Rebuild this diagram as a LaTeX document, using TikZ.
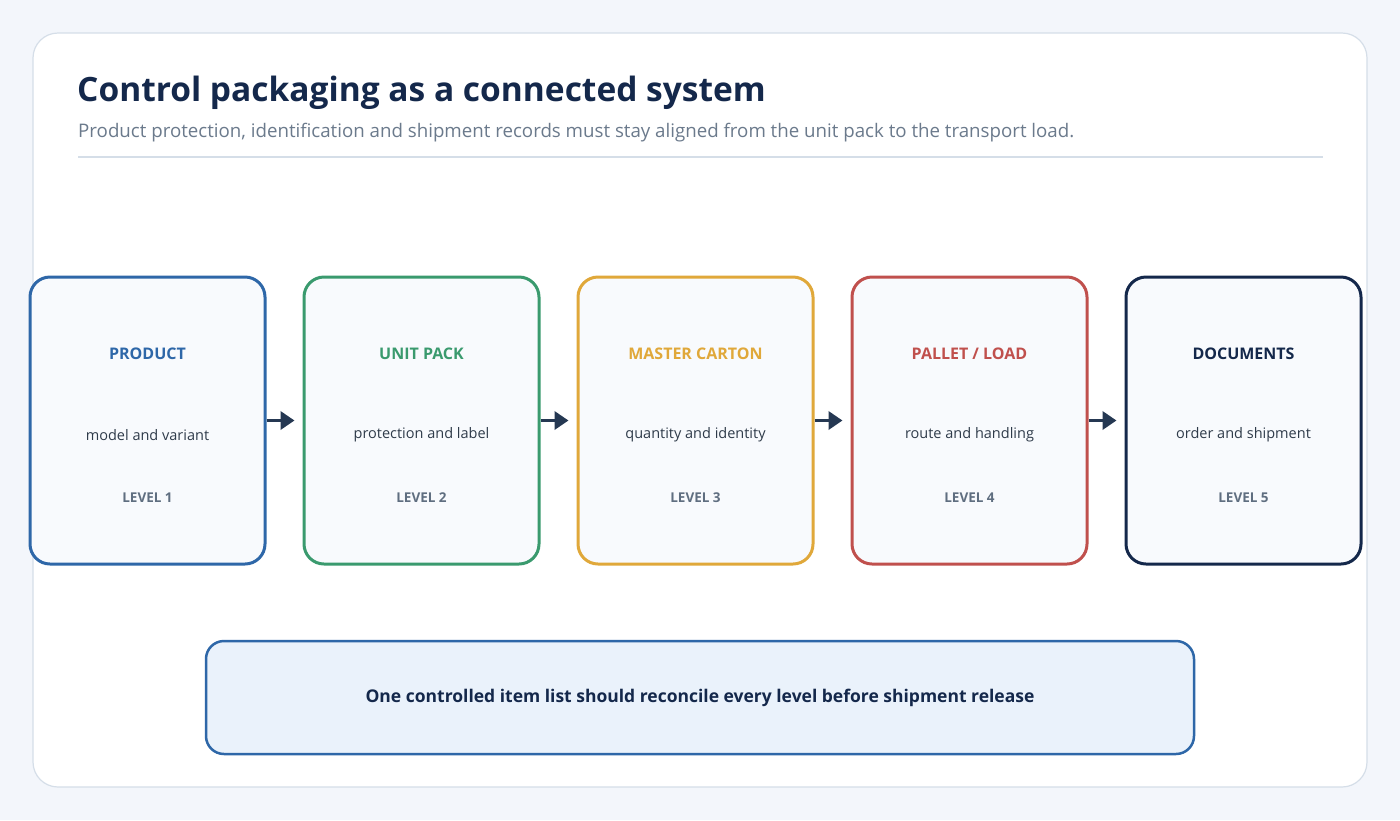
\documentclass[tikz,border=0pt]{standalone}
\usepackage{fontspec}
\setmainfont{Open Sans}
\usetikzlibrary{arrows.meta}
\definecolor{bg}{HTML}{F3F6FB}
\definecolor{cardb}{HTML}{D5DEE8}
\definecolor{navy}{HTML}{14284B}
\definecolor{sub}{HTML}{6B7A8C}
\definecolor{lvl}{HTML}{5F6E80}
\definecolor{cblue}{HTML}{2E67A8}
\definecolor{cgreen}{HTML}{3A9A6E}
\definecolor{cyellow}{HTML}{E0A83A}
\definecolor{cred}{HTML}{C0504D}
\definecolor{arr}{HTML}{253852}
\definecolor{boxfill}{HTML}{F8FAFD}
\definecolor{notefill}{HTML}{EAF2FB}
\definecolor{body}{HTML}{2F3B4A}
\begin{document}
\begin{tikzpicture}[x=1pt,y=-1pt,
 stage/.style={draw=#1,line width=3pt,rounded corners=20pt,fill=boxfill,minimum width=235pt,minimum height=287pt,inner sep=0pt},
 ttl/.style={font=\fontsize{16}{18}\selectfont\bfseries,text=#1},
 desc/.style={font=\fontsize{14.5}{17}\selectfont,text=body},
 lv/.style={font=\fontsize{13.5}{16}\selectfont\bfseries,text=lvl},
 conn/.style={arr,line width=3.5pt,shorten >=8pt,-{Triangle[length=14pt,width=18pt]}}]
\useasboundingbox (0,0) rectangle (1400,820);
\fill[bg] (0,0) rectangle (1400,820);
\node[draw=cardb,line width=1.2pt,fill=white,rounded corners=25pt,minimum width=1334pt,minimum height=754pt,inner sep=0pt] (card) at (700,410) {};
\node[anchor=base west,font=\fontsize{33.5}{38}\selectfont\bfseries,text=navy,inner sep=0pt] (title) at (77,101) {Control packaging as a connected system};
\node[anchor=base west,font=\fontsize{18.7}{22}\selectfont,text=sub,inner sep=0pt] (subt) at (78,137) {Product protection, identification and shipment records must stay aligned from the unit pack to the transport load.};
\coordinate (l1) at (78,157); \coordinate (l2) at (1323,157);
\draw[cardb,line width=1.5pt] (l1) -- (l2);
\foreach \n/\x/\c/\t/\d/\l in {b1/147.5/cblue/PRODUCT/model and variant/1, b2/421.5/cgreen/UNIT PACK/protection and label/2, b3/695.5/cyellow/MASTER CARTON/quantity and identity/3, b4/969.5/cred/{PALLET / LOAD}/route and handling/4, b5/1243.5/navy/DOCUMENTS/order and shipment/5}{
 \node[stage=\c] (\n) at (\x,420.5) {};
 \node[ttl=\c] (\n t) at (\x,354) {\t};
 \node[desc] (\n d) at (\x,435) {\d};
 \node[lv] (\n l) at (\x,498) {LEVEL \l};
}
\draw[conn] (b1.east) -- (b2.west);
\draw[conn] (b2.east) -- (b3.west);
\draw[conn] (b3.east) -- (b4.west);
\draw[conn] (b4.east) -- (b5.west);
\node[draw=cblue,line width=2.5pt,fill=notefill,rounded corners=18pt,minimum width=988pt,minimum height=113pt,font=\fontsize{17.5}{20}\selectfont\bfseries,text=navy] (note) at (700,697.5) {One controlled item list should reconcile every level before shipment release};
\end{tikzpicture}
\end{document}
